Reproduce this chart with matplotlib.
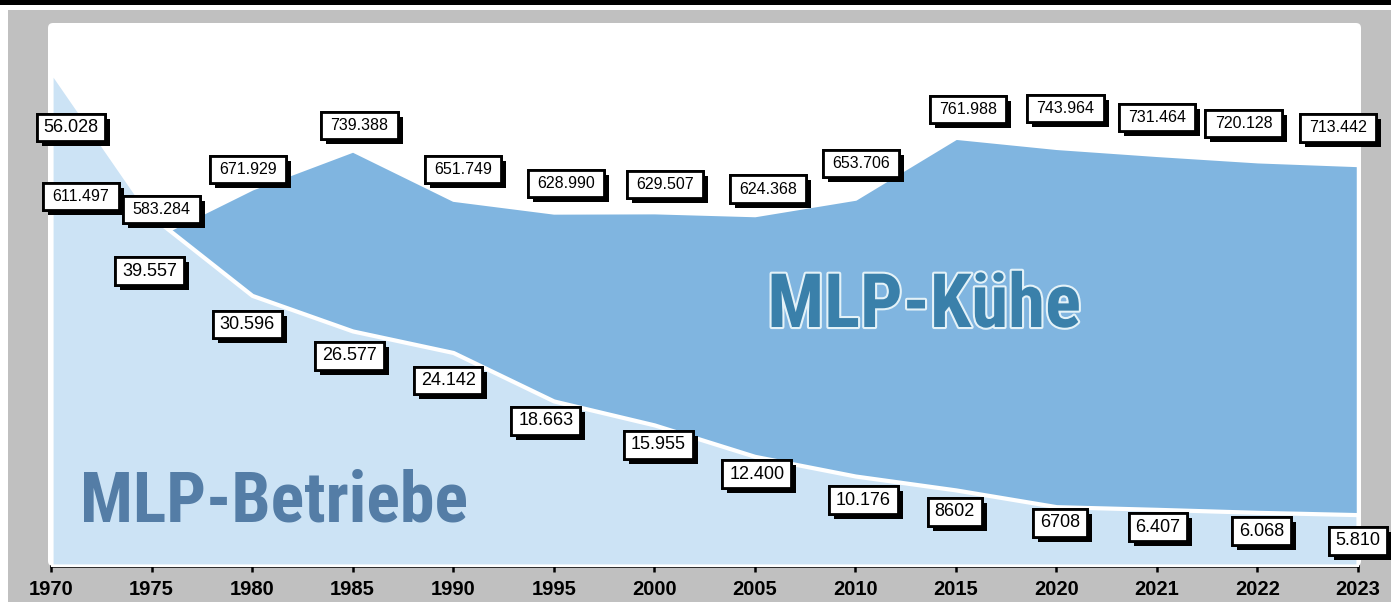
import numpy as np
import matplotlib.pyplot as plt
import matplotlib.patheffects as pe
from matplotlib import font_manager
from matplotlib.path import Path
from matplotlib.patches import Rectangle, FancyBboxPatch
from matplotlib.transforms import IdentityTransform

plt.rcParams['font.family'] = 'Liberation Sans'

# data
years = ['1970', '1975', '1980', '1985', '1990', '1995', '2000',
         '2005', '2010', '2015', '2020', '2021', '2022', '2023']
kuehe = [611497, 583284, 671929, 739388, 651749, 628990, 629507,
         624368, 653706, 761988, 743964, 731464, 720128, 713442]
betriebe = [56028, 39557, 30596, 26577, 24142, 18663, 15955,
            12400, 10176, 8602, 6708, 6407, 6068, 5810]
kuehe_labels = ['611.497', '583.284', '671.929', '739.388', '651.749', '628.990', '629.507',
                '624.368', '653.706', '761.988', '743.964', '731.464', '720.128', '713.442']
betriebe_labels = ['56.028', '39.557', '30.596', '26.577', '24.142', '18.663', '15.955',
                   '12.400', '10.176', '8602', '6708', '6.407', '6.068', '5.810']

# label offsets from the data point in pixels (x right, y up)
kuehe_dx = [30, 10, -4, 7, 10, 12, 11, 13, 6, 12, 9, 0, -14, -20]
kuehe_dy = [26, 29, 19, 25, 30, 29, 28, 26, 35, 28, 39, 37, 38, 37]
betriebe_dx = [20, -2, -5, -3, -5, -8, 4, 2, 8, -1, 4, 1, 4, 0]
betriebe_dy = [-57, -55, -29, -25, -28, -20, -20, -18, -24, -22, -16, -18, -19, -26]

dark_blue = '#80B5E0'
light_blue = '#CCE3F5'


def label_box(padx, pady):
    # plain rectangle with separate horizontal / vertical padding
    def box(x0, y0, width, height, mutation_size):
        px, py = padx * mutation_size, pady * mutation_size
        x0, y0 = x0 - px, y0 - py
        x1, y1 = x0 + width + 2 * px, y0 + height + 2 * py
        return Path([(x0, y0), (x1, y0), (x1, y1), (x0, y1), (x0, y0)], closed=True)
    return box


W, H = 1391, 602
fig = plt.figure(figsize=(W / 100, H / 100), dpi=100)
fig.patch.set_facecolor('white')

# background frame
fig.add_artist(Rectangle((8, 0), W - 8, H - 10, transform=IdentityTransform(),
                         fc='#C0C0C0', ec='none', zorder=-2))
fig.add_artist(Rectangle((0, H - 5), W, 5, transform=IdentityTransform(),
                         fc='black', ec='none', zorder=-2))
fig.add_artist(FancyBboxPatch((48, 36), 1313, 543, boxstyle='round,pad=0,rounding_size=5',
                              transform=IdentityTransform(), fc='white', ec='none', zorder=-1))

ax = fig.add_axes([51 / W, 36 / H, 1307 / W, 543 / H])
ax.set_facecolor('none')
ax2 = ax.twinx()

x = np.arange(len(years))

ax.fill_between(x, kuehe, 0, facecolor=dark_blue, edgecolor='white', linewidth=2.5)
ax2.fill_between(x, betriebe, 0, facecolor=light_blue, edgecolor='white', linewidth=3)

ax.set_xlim(0, len(years) - 1)
ax.set_ylim(0, 966000)
ax2.set_ylim(0, 61400)

ax.set_xticks(x, years)
ax.set_yticks([])
ax2.set_yticks([])
ax.tick_params(axis='x', direction='out', length=4, width=1.8, pad=6, labelsize=14.5)
for lab in ax.get_xticklabels():
    lab.set_fontweight('bold')
for a in (ax, ax2):
    for side in ('top', 'left', 'right'):
        a.spines[side].set_visible(False)
ax2.spines['bottom'].set_visible(False)
ax.spines['bottom'].set_linewidth(1.8)

shadow = [pe.withSimplePatchShadow(offset=(3.6, -3.6), shadow_rgbFace='black', alpha=1.0),
          pe.Normal()]

for i in range(len(years)):
    a = ax2.annotate(kuehe_labels[i], xy=(x[i], kuehe[i]), xycoords=ax.transData,
                     xytext=(kuehe_dx[i], kuehe_dy[i]), textcoords='offset pixels',
                     ha='center', va='center', fontsize=11.5, zorder=5,
                     bbox=dict(boxstyle=label_box(0.58, 0.38), fc='white', ec='black', lw=2))
    a.get_bbox_patch().set_path_effects(shadow)
    b = ax2.annotate(betriebe_labels[i], xy=(x[i], betriebe[i]), xycoords=ax2.transData,
                     xytext=(betriebe_dx[i], betriebe_dy[i]), textcoords='offset pixels',
                     ha='center', va='center', fontsize=13, zorder=5,
                     bbox=dict(boxstyle=label_box(0.38, 0.3), fc='white', ec='black', lw=2))
    b.get_bbox_patch().set_path_effects(shadow)

# big series titles, in a narrow font if one is installed
names = {f.name for f in font_manager.fontManager.ttflist}
narrow = [n for n in ('Liberation Sans Narrow', 'Arial Narrow', 'Roboto Condensed',
                      'Open Sans Condensed', 'DejaVu Sans Condensed') if n in names]
title_font = narrow[0] if narrow else 'Liberation Sans'

t1 = fig.text(274.5 / W, (H - 522) / H, 'MLP-Betriebe', ha='center', va='baseline',
              fontsize=50, fontweight='bold', family=title_font, color='#547DA6')
t2 = fig.text(924 / W, (H - 327) / H, 'MLP-Kühe', ha='center', va='baseline',
              fontsize=50, fontweight='bold', family=title_font, color='#3A80AA')
t2.set_path_effects([pe.Stroke(linewidth=3, foreground='#E4F2F8'), pe.Normal()])

# fit the title widths to the reference
fig.canvas.draw()
for t, target in ((t1, 388), (t2, 314)):
    w = t.get_window_extent().width
    t.set_fontsize(t.get_fontsize() * target / w)

fig.savefig('out.png', dpi=100)
